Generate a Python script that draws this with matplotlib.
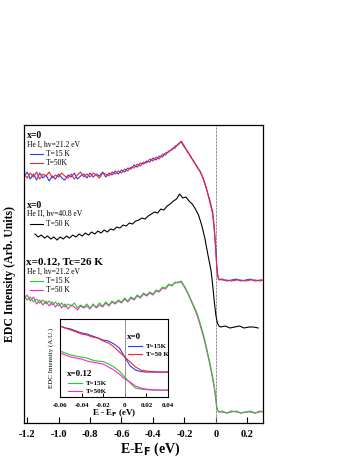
import matplotlib
matplotlib.use('Agg')
import matplotlib.pyplot as plt

plt.rcParams['font.family'] = ['Liberation Serif', 'DejaVu Serif']

# --- main panel data (energy in eV, intensity in arb. units) ---
E_low = [-1.22 + 0.02 * i for i in range(51)]
E_edge = [-0.20, -0.18, -0.16, -0.14, -0.12, -0.10, -0.08, -0.06, -0.04, -0.02,
          -0.01, 0.0, 0.005, 0.01, 0.015, 0.02,
          0.04, 0.07, 0.10, 0.13, 0.16, 0.19, 0.22, 0.25, 0.28, 0.30]
E_hei = E_low + E_edge

x0_15K = [246, 251, 244, 249, 243, 250, 245, 248, 242, 247, 244, 249, 245, 243, 248, 246, 250, 244, 247, 249,
          245, 250, 246, 249, 247, 251, 246, 250, 248, 252,
          249, 253, 251, 255, 254, 258, 256, 260, 259, 262,
          261, 265, 263, 267, 266, 270, 271, 274, 275, 279, 281,
          276, 272, 266, 262, 256, 252, 244, 234, 224, 211, 196, 175, 160, 150, 145, 143,
          144, 142, 143, 144, 142, 143, 144, 142, 143, 143]
x0_50K = [249, 245, 250, 246, 251, 244, 249, 247, 251, 245, 248, 246, 250, 247, 245, 249, 244, 248, 251, 246,
          249, 246, 250, 248, 245, 250, 249, 247, 251, 249,
          252, 250, 254, 252, 256, 255, 259, 257, 261, 260,
          264, 262, 266, 264, 269, 268, 272, 273, 277, 278, 282,
          277, 271, 267, 261, 257, 251, 245, 235, 222, 209, 193, 172, 158, 150, 146, 144,
          143, 143, 142, 143, 143, 142, 143, 143, 142, 143]

E_heii = [-1.15 + 0.02 * i for i in range(47)] + \
         [-0.21, -0.19, -0.17, -0.15, -0.13, -0.11, -0.09, -0.07, -0.05, -0.03, -0.02, -0.01,
          0.0, 0.01, 0.02, 0.03, 0.06, 0.09, 0.12, 0.15, 0.18, 0.21, 0.24, 0.27]
x0_heii = [189, 186, 188, 185, 187, 184, 186, 183, 186, 184,
           187, 185, 188, 186, 189, 187, 190, 188, 191, 189,
           192, 190, 193, 191, 194, 193, 196, 195, 198, 197,
           200, 199, 202, 203, 205, 204, 207, 209, 211, 210,
           214, 213, 217, 219, 222, 224, 229,
           225, 226, 222, 219, 214, 208, 198, 185, 168, 152, 138, 122,
           108, 100, 97, 96, 97, 95, 96, 97, 95, 96, 96, 95]

x12_15K = [127, 123, 126, 121, 124, 120, 123, 119, 122, 118, 121, 117, 120, 116, 119, 117, 120, 115, 118, 116,
           119, 115, 118, 116, 120, 117, 121, 118, 122, 120,
           123, 121, 125, 122, 126, 124, 128, 126, 130, 128,
           131, 129, 133, 132, 136, 135, 139, 137, 141, 140, 142,
           137, 131, 124, 117, 110, 100, 89, 76, 62, 46, 37, 26, 17, 13, 12, 11,
           12, 10, 11, 12, 10, 11, 12, 10, 11, 12]
x12_50K = [124, 128, 122, 126, 119, 123, 118, 122, 117, 121, 116, 120, 115, 119, 114, 118, 116, 113, 117, 115,
           117, 114, 119, 115, 118, 116, 120, 117, 121, 119,
           122, 120, 124, 121, 125, 123, 127, 125, 129, 127,
           130, 128, 132, 131, 135, 134, 138, 138, 140, 141, 141,
           136, 130, 123, 116, 108, 98, 87, 74, 60, 44, 35, 24, 16, 13, 12, 11,
           11, 10, 12, 11, 10, 11, 11, 10, 12, 11]

# --- inset data ---
E_in = [-0.06, -0.055, -0.05, -0.045, -0.04, -0.035, -0.03, -0.025, -0.02, -0.015, -0.01,
        -0.005, 0.0, 0.005, 0.01, 0.015, 0.02, 0.025, 0.03, 0.035, 0.04]
in_x0_15K = [71, 69, 68, 66, 64, 63, 61, 59, 57, 56, 53, 49, 40, 31, 27, 25.5, 25, 25, 25, 25, 25]
in_x0_50K = [71, 69, 67, 65, 63, 62, 60, 59, 56, 54, 50, 45, 40, 35, 30, 27, 26, 25.5, 25, 25, 25]
in_x12_15K = [46, 44, 42, 41, 40, 39, 37, 36, 35.5, 33, 30, 26, 20, 14, 9, 8, 7.5, 7, 7, 7, 7]
in_x12_50K = [44, 42, 40, 39, 38, 36, 35, 34, 33, 30, 27, 23, 18, 15, 11, 9, 8, 7.5, 7, 7, 7]

xticks = [-1.2, -1.0, -0.8, -0.6, -0.4, -0.2, 0, 0.2]
xticklabels = ['-1.2', '-1.0', '-0.8', '-0.6', '-0.4', '-0.2', '0', '0.2']
in_ticks = [-0.06, -0.04, -0.02, 0, 0.02, 0.04]
in_ticklabels = ['-0.06', '-0.04', '-0.02', '0', '0.02', '0.04']

BLUE = '#1f3fff'
RED = '#ff2020'
GREEN = '#22cc22'
MAG = '#ff22dd'

fig = plt.figure(figsize=(3.53, 4.57), dpi=100)
ax = fig.add_axes([0.068, 0.0744, 0.677, 0.652])

lw = 0.8
ax.axvline(0, color='gray', lw=0.6, ls=(0, (3, 1)))
ax.plot(E_hei, x0_15K, color=BLUE, lw=lw)
ax.plot(E_hei, x0_50K, color=RED, lw=lw)
ax.plot(E_heii, x0_heii, color='black', lw=lw)
ax.plot(E_hei, x12_50K, color=MAG, lw=lw)
ax.plot(E_hei, x12_15K, color=GREEN, lw=lw)

ax.set_xlim(-1.22, 0.30)
ax.set_ylim(0, 298)
ax.set_xticks(xticks)
ax.set_xticklabels(xticklabels, fontweight='bold', fontsize=7.5)
ax.set_yticks([])
ax.tick_params(axis='x', direction='in', length=4, width=0.8, pad=5)
for s in ax.spines.values():
    s.set_linewidth(0.9)
ax.set_xlabel('E-E$_\\mathbf{F}$ (eV)', fontweight='bold', fontsize=10)
ax.xaxis.set_label_coords(0.53, -0.058)
ax.set_ylabel('EDC Intensity (Arb. Units)', fontweight='bold', fontsize=8.5)
ax.yaxis.set_label_coords(-0.035, 0.5)

# annotations inside main panel
def leg(a, x, y, c, label, l=0.08, fs=5.5, bold=False):
    a.plot([x, x + l], [y, y], color=c, lw=lw)
    a.text(x + l + 0.02 * l / 0.08, y, label, fontsize=fs, va='center',
           fontweight='bold' if bold else 'normal')

ax.text(-1.20, 288, 'x=0', fontsize=7, fontweight='bold', va='center')
ax.text(-1.20, 278, 'He I, hv=21.2 eV', fontsize=5.5, va='center')
leg(ax, -1.18, 269, BLUE, 'T=15 K')
leg(ax, -1.18, 260, RED, 'T=50K')

ax.text(-1.20, 218, 'x=0', fontsize=7, fontweight='bold', va='center')
ax.text(-1.20, 209, 'He II, hv=40.8 eV', fontsize=5.5, va='center')
leg(ax, -1.18, 199, 'black', 'T=50 K')

ax.text(-1.21, 161, 'x=0.12, Tc=26 K', fontsize=8, fontweight='bold', va='center')
ax.text(-1.20, 151, 'He I, hv=21.2 eV', fontsize=5.5, va='center')
leg(ax, -1.18, 142, GREEN, 'T=15 K')
leg(ax, -1.18, 133, MAG, 'T=50 K')

# inset
ins = fig.add_axes([0.170, 0.131, 0.306, 0.171])
ins.axvline(0, color='gray', lw=0.6)
ins.plot(E_in, in_x0_15K, color=BLUE, lw=lw)
ins.plot(E_in, in_x0_50K, color=RED, lw=lw)
ins.plot(E_in, in_x12_15K, color=GREEN, lw=lw)
ins.plot(E_in, in_x12_50K, color=MAG, lw=lw)
ins.set_xlim(-0.06, 0.04)
ins.set_ylim(0, 78)
ins.set_xticks(in_ticks)
ins.set_xticklabels(in_ticklabels, fontweight='bold', fontsize=5)
ins.set_yticks([])
ins.tick_params(axis='x', direction='in', length=3, width=0.7, pad=4)
for s in ins.spines.values():
    s.set_linewidth(0.8)
ins.set_xlabel('E - E$_\\mathbf{F}$ (eV)', fontweight='bold', fontsize=6.5, labelpad=0)
ins.set_ylabel('EDC Intensity (A.U.)', fontsize=5, labelpad=4)

ins.text(0.002, 60, 'x=0', fontsize=6.5, fontweight='bold', va='center')
leg(ins, 0.003, 51, BLUE, 'T=15K', l=0.013, fs=5, bold=True)
leg(ins, 0.003, 43, RED, 'T=50 K', l=0.013, fs=5, bold=True)
ins.text(-0.0535, 23, 'x=0.12', fontsize=6.5, fontweight='bold', va='center')
leg(ins, -0.0525, 14, GREEN, 'T=15K', l=0.013, fs=5, bold=True)
leg(ins, -0.0525, 6, MAG, 'T=50K', l=0.013, fs=5, bold=True)

fig.savefig('out.png', dpi=100)
